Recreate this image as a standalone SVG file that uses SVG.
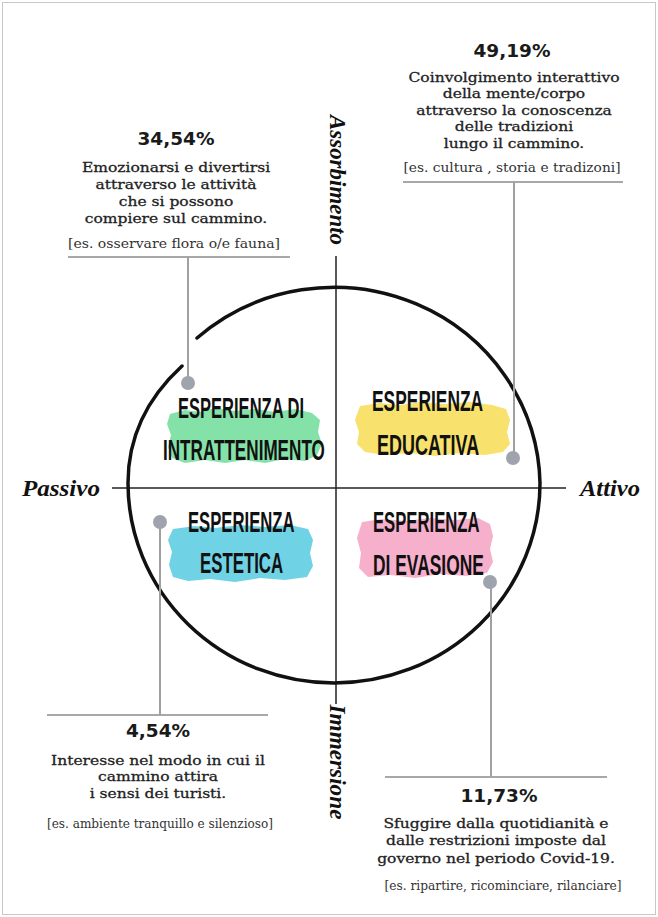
<svg xmlns="http://www.w3.org/2000/svg" width="658" height="917" viewBox="0 0 658 917">
<style>
.pct{font-family:"DejaVu Sans",sans-serif;font-weight:bold;font-size:18.5px;fill:#1a1a1a;text-anchor:middle}
.desc{font-family:"DejaVu Serif",serif;font-size:13.5px;fill:#222;stroke:#222;stroke-width:0.3;text-anchor:middle}
.ex{font-family:"DejaVu Serif",serif;font-size:12.5px;fill:#333;text-anchor:middle}
.lab{font-family:"Liberation Sans",Arial,sans-serif;font-weight:bold;font-size:29px;fill:#111}
.axl{font-family:"Liberation Serif",serif;font-style:italic;font-weight:bold;font-size:24px;fill:#111}
.rule{stroke:#a8a8a8;stroke-width:2;fill:none}
.conn{stroke:#a0a0a0;stroke-width:2;fill:none}
.dot{fill:#9ea3ad}
.axis{stroke:#222;stroke-width:1.5;fill:none}
</style>
<rect x="2.5" y="2.5" width="653" height="912" fill="#fff" stroke="#c8c8c8" stroke-width="1"/>

<g id="axes">
<line class="axis" x1="336" y1="256" x2="336" y2="704"/>
<line class="axis" x1="112" y1="488" x2="566" y2="488"/>
<path d="M 197 338 A 206 200 0 0 1 540 483 A 206 200 0 0 1 334 683 A 206 200 0 0 1 128 483 C 128 440 145 400 182 366" fill="none" stroke="#111" stroke-width="3.5" stroke-linecap="round"/>
<text class="axl" transform="translate(330,180) rotate(90)" text-anchor="middle" textLength="130" lengthAdjust="spacingAndGlyphs">Assorbimento</text>
<text class="axl" transform="translate(330,762) rotate(90)" text-anchor="middle" textLength="115" lengthAdjust="spacingAndGlyphs">Immersione</text>
<text class="axl" x="22" y="496" textLength="78" lengthAdjust="spacingAndGlyphs">Passivo</text>
<text class="axl" x="580" y="496" textLength="60" lengthAdjust="spacingAndGlyphs">Attivo</text>
</g>

<g id="connectors">
<line class="rule" x1="68" y1="257" x2="290" y2="257"/>
<line class="conn" x1="188" y1="257" x2="188" y2="383"/>
<line class="rule" x1="403" y1="182" x2="623" y2="182"/>
<line class="conn" x1="514" y1="182" x2="514" y2="458"/>
<line class="rule" x1="47" y1="715" x2="268" y2="715"/>
<line class="conn" x1="160" y1="522" x2="160" y2="715"/>
<line class="rule" x1="385" y1="777" x2="607" y2="777"/>
<line class="conn" x1="491" y1="582" x2="491" y2="777"/>
</g>

<g id="intrattenimento">
<path d="M 170 414 L 185 410 L 200 412 L 215 408 L 235 411 L 255 409 L 275 412 L 295 409 L 312 413 L 320 420 L 318 432 L 322 444 L 317 455 L 305 461 L 285 459 L 265 463 L 245 460 L 225 463 L 205 460 L 185 463 L 172 458 L 168 447 L 171 435 L 167 424 Z" fill="#84e2a8"/>
<text class="lab" transform="translate(178,418) scale(0.57,1)">ESPERIENZA DI</text>
<text class="lab" transform="translate(163,460) scale(0.59,1)">INTRATTENIMENTO</text>
<circle class="dot" cx="188" cy="383" r="7"/>
<text class="pct" x="176" y="145">34,54%</text>
<g transform="translate(176,0) scale(1.15,1) translate(-176,0)">
<text class="desc" x="176" y="172">Emozionarsi e divertirsi</text>
<text class="desc" x="176" y="189">attraverso le attività</text>
<text class="desc" x="176" y="206">che si possono</text>
<text class="desc" x="176" y="223">compiere sul cammino.</text>
</g>
<text class="ex" x="174" y="248" textLength="212" lengthAdjust="spacingAndGlyphs">[es. osservare flora o/e fauna]</text>
</g>

<g id="educativa">
<path d="M 360 406 L 380 403 L 400 405 L 420 402 L 445 404 L 470 402 L 492 405 L 506 409 L 510 420 L 507 432 L 510 444 L 503 452 L 485 455 L 460 453 L 435 456 L 410 453 L 385 455 L 365 452 L 357 444 L 359 432 L 355 420 Z" fill="#f8e16c"/>
<text class="lab" transform="translate(372,411) scale(0.60,1)">ESPERIENZA</text>
<text class="lab" transform="translate(377,455) scale(0.62,1)">EDUCATIVA</text>
<circle class="dot" cx="513" cy="458" r="7"/>
<text class="pct" x="512" y="57">49,19%</text>
<g transform="translate(514,0) scale(1.15,1) translate(-514,0)">
<text class="desc" x="514" y="82">Coinvolgimento interattivo</text>
<text class="desc" x="514" y="98.5">della mente/corpo</text>
<text class="desc" x="514" y="115">attraverso la conoscenza</text>
<text class="desc" x="514" y="131.5">delle tradizioni</text>
<text class="desc" x="514" y="148">lungo il cammino.</text>
</g>
<text class="ex" x="512" y="172" textLength="217" lengthAdjust="spacingAndGlyphs">[es. cultura , storia e tradizoni]</text>
</g>

<g id="estetica">
<path d="M 173 529 L 195 526 L 215 528 L 240 525 L 265 527 L 290 525 L 308 529 L 313 540 L 310 553 L 313 566 L 307 577 L 285 580 L 260 578 L 235 582 L 210 579 L 188 581 L 173 577 L 169 565 L 172 552 L 168 540 Z" fill="#6fd3e5"/>
<text class="lab" transform="translate(188,532) scale(0.575,1)">ESPERIENZA</text>
<text class="lab" transform="translate(200,573) scale(0.58,1)">ESTETICA</text>
<circle class="dot" cx="160" cy="522" r="7"/>
<text class="pct" x="158" y="737">4,54%</text>
<g transform="translate(158,0) scale(1.15,1) translate(-158,0)">
<text class="desc" x="158" y="765">Interesse nel modo in cui il</text>
<text class="desc" x="158" y="781.5">cammino attira</text>
<text class="desc" x="158" y="798">i sensi dei turisti.</text>
</g>
<text class="ex" x="160" y="828" textLength="226" lengthAdjust="spacingAndGlyphs">[es. ambiente tranquillo e silenzioso]</text>
</g>

<g id="evasione">
<path d="M 362 522 L 382 519 L 405 521 L 430 518 L 455 520 L 478 518 L 490 524 L 493 536 L 490 549 L 493 562 L 487 573 L 465 576 L 440 574 L 415 578 L 390 575 L 368 577 L 359 568 L 361 553 L 357 538 Z" fill="#f6b0cc"/>
<text class="lab" transform="translate(373,532) scale(0.575,1)">ESPERIENZA</text>
<text class="lab" transform="translate(373,575) scale(0.60,1)">DI EVASIONE</text>
<circle class="dot" cx="490" cy="582" r="7"/>
<text class="pct" x="499" y="802">11,73%</text>
<g transform="translate(496,0) scale(1.15,1) translate(-496,0)">
<text class="desc" x="496" y="828">Sfuggire dalla quotidianità e</text>
<text class="desc" x="496" y="845.5">dalle restrizioni imposte dal</text>
<text class="desc" x="496" y="863">governo nel periodo Covid-19.</text>
</g>
<text class="ex" x="503" y="890" textLength="237" lengthAdjust="spacingAndGlyphs">[es. ripartire, ricominciare, rilanciare]</text>
</g>
</svg>
